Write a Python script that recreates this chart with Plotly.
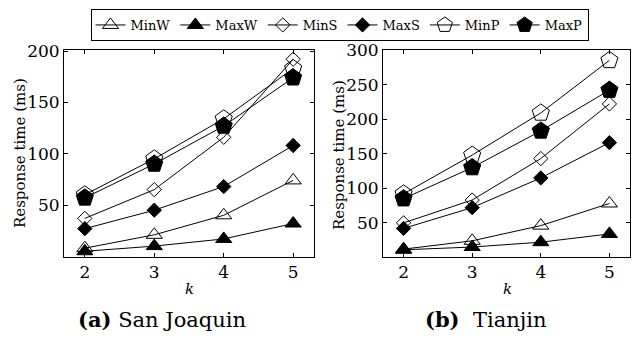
import plotly.graph_objects as go

k_values = [2, 3, 4, 5]
series_names = ["MinW", "MaxW", "MinS", "MaxS", "MinP", "MaxP"]

sj_minw = [8, 21, 40, 74]
sj_maxw = [5, 10, 17, 32]
sj_mins = [37, 65, 116, 192]
sj_maxs = [27, 45, 68, 108]
sj_minp = [60, 95, 134, 183]
sj_maxp = [57, 90, 127, 174]

tj_minw = [12, 24, 46, 78]
tj_maxw = [11, 15, 22, 34]
tj_mins = [50, 83, 143, 222]
tj_maxs = [42, 72, 115, 166]
tj_minp = [92, 148, 209, 285]
tj_maxp = [85, 130, 183, 242]

left_ticks = [50, 100, 150, 200]
right_ticks = [50, 100, 150, 200, 250, 300]

symbols = ["triangle-up-open", "triangle-up", "diamond-open", "diamond", "pentagon-open", "pentagon"]
sizes = [14, 14, 11, 11, 18, 18]

FONT = "'DejaVu Serif', serif"

fig = go.Figure()
sj = [sj_minw, sj_maxw, sj_mins, sj_maxs, sj_minp, sj_maxp]
tj = [tj_minw, tj_maxw, tj_mins, tj_maxs, tj_minp, tj_maxp]

for i, name in enumerate(series_names):
    mk = dict(symbol=symbols[i], size=sizes[i], color="black",
              line=dict(color="black", width=1))
    fig.add_trace(go.Scatter(x=k_values, y=sj[i], mode="lines+markers", name=name,
                             line=dict(color="black", width=1), marker=mk,
                             xaxis="x", yaxis="y", legendgroup=name, showlegend=True))
    fig.add_trace(go.Scatter(x=k_values, y=tj[i], mode="lines+markers", name=name,
                             line=dict(color="black", width=1), marker=mk,
                             xaxis="x2", yaxis="y2", legendgroup=name, showlegend=False))

axis_common = dict(showline=True, linecolor="black", linewidth=1, mirror="ticks",
                   ticks="inside", ticklen=4, tickcolor="black", showgrid=False,
                   zeroline=False, automargin=False,
                   tickfont=dict(family=FONT, size=17, color="black"))

y_dom = [1 - 257 / 338, 1 - 50 / 338]
fig.update_layout(
    template="none",
    width=632, height=338,
    margin=dict(l=0, r=0, t=0, b=0, pad=0),
    plot_bgcolor="white", paper_bgcolor="white",
    font=dict(family=FONT, color="black"),
    xaxis=dict(domain=[64 / 632, 314 / 632], range=[1.7, 5.3], tickvals=k_values,
               anchor="y", **axis_common),
    yaxis=dict(domain=y_dom, range=[-0.6, 201], tickvals=left_ticks, anchor="x",
               **axis_common),
    xaxis2=dict(domain=[383 / 632, 630 / 632], range=[1.7, 5.3], tickvals=k_values,
                anchor="y2", **axis_common),
    yaxis2=dict(domain=y_dom, range=[0.6, 300], tickvals=right_ticks, anchor="x2",
                **axis_common),
    legend=dict(orientation="h", x=339.5 / 632, xanchor="center", y=1 - 9 / 338, yanchor="top",
                bordercolor="black", borderwidth=1, bgcolor="white",
                font=dict(family=FONT, size=13, color="black"),
                itemwidth=30, tracegroupgap=0),
    showlegend=True,
)

anns = [
    dict(x=20 / 632, y=1 - 153 / 338, text="Response time (ms)", textangle=-90),
    dict(x=339 / 632, y=1 - 155 / 338, text="Response time (ms)", textangle=-90),
    dict(x=189 / 632, y=1 - 289 / 338, text="<i>k</i>"),
    dict(x=508 / 632, y=1 - 289 / 338, text="<i>k</i>"),
]
for a in anns:
    fig.add_annotation(xref="paper", yref="paper", showarrow=False,
                       xanchor="center", yanchor="middle",
                       font=dict(family=FONT, size=15, color="black"), **a)

fig.add_annotation(xref="paper", yref="paper", showarrow=False, x=162 / 632, y=1 - 319 / 338,
                   xanchor="center", yanchor="middle", text="<b>(a)</b> San Joaquin",
                   font=dict(family=FONT, size=21, color="black"))
fig.add_annotation(xref="paper", yref="paper", showarrow=False, x=485 / 632, y=1 - 319 / 338,
                   xanchor="center", yanchor="middle", text="<b>(b)</b>  Tianjin",
                   font=dict(family=FONT, size=21, color="black"))

fig.write_html("out.html", config={"displayModeBar": False},
               post_script="document.body.style.margin='0';")
